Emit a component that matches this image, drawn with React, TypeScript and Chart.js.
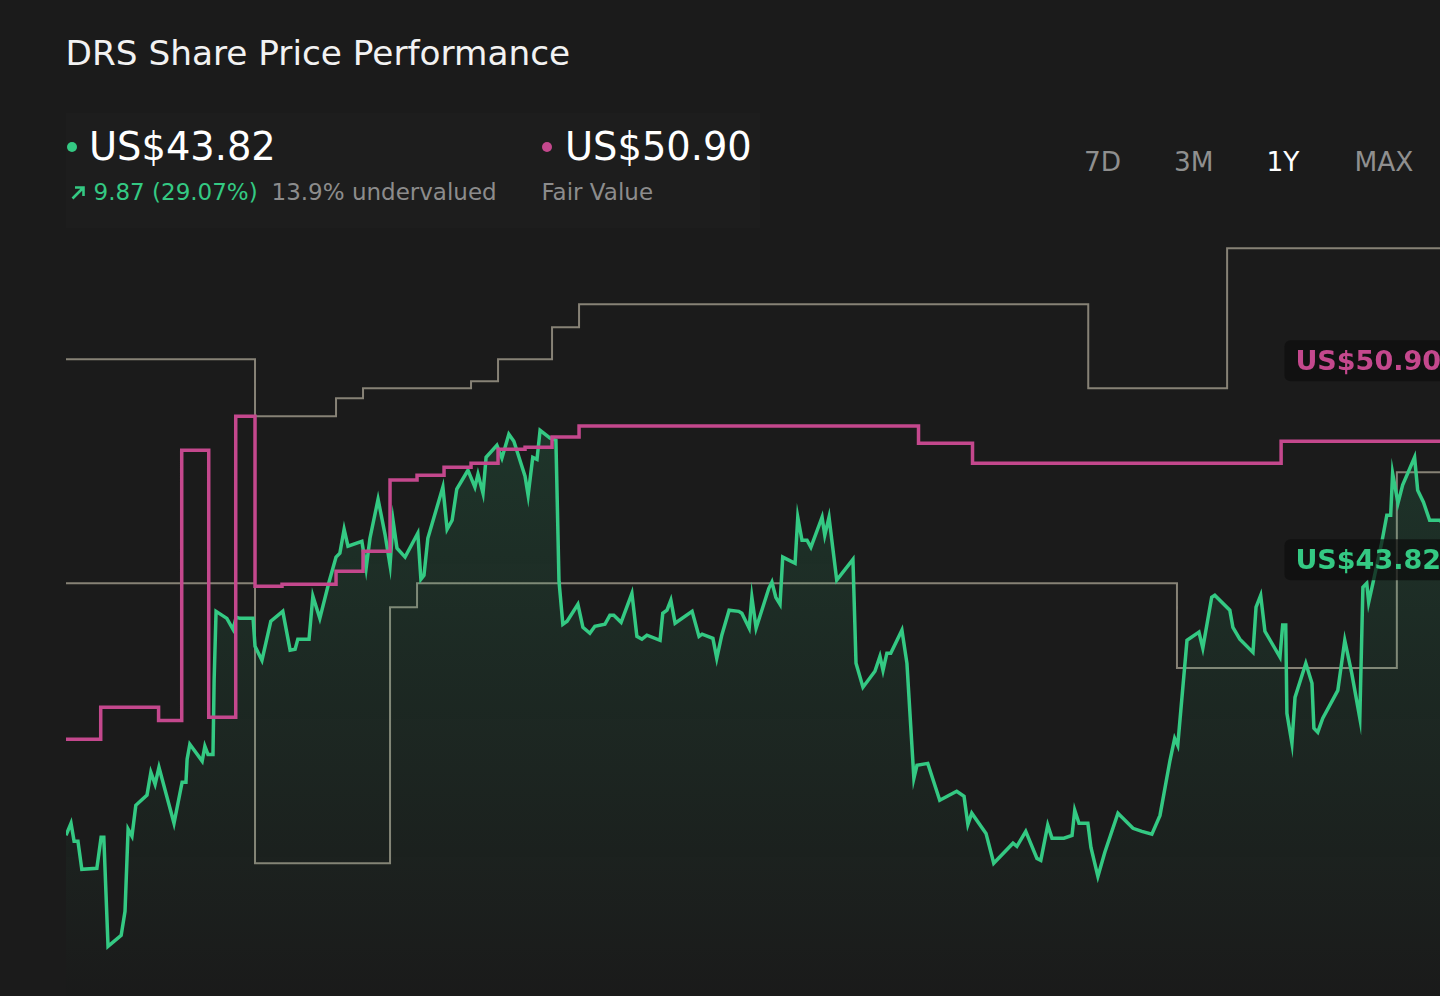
import React, { useEffect, useRef } from 'react';
import { Chart, registerables } from 'chart.js';

Chart.register(...registerables);

// x values are calendar days since the start of the 1Y window, y values are US$
const priceDays = [
  0, 1.3, 2.1, 3.1, 4.1, 8.0, 9.1, 9.8, 10.9, 14.3,
  15.3, 16.1, 17.1, 18.1, 21.0, 22.0, 23.1, 24.1, 28.0, 30.1,
  31.1, 31.4, 32.1, 35.3, 36.0, 36.8, 38.1, 38.4, 38.9, 41.7,
  43.3, 44.1, 45.1, 48.5, 49.0, 50.8, 53.1, 56.2, 58.1, 59.4,
  60.1, 63.0, 64.0, 65.8, 68.1, 70.0, 71.0, 72.1, 73.1, 76.7,
  77.2, 77.8, 78.8, 80.9, 82.7, 84.0, 84.8, 85.8, 87.9, 91.2,
  92.0, 92.8, 93.8, 97.7, 98.8, 100.1, 101.3, 104.2, 106.0, 106.8,
  108.1, 108.9, 111.7, 113.0, 114.8, 116.1, 119.0, 119.8, 121.0, 122.1,
  122.9, 125.5, 127.0, 127.8, 128.8, 129.9, 132.7, 134.0, 135.8, 137.1,
  139.7, 141.0, 142.0, 143.9, 146.7, 148.0, 149.3, 150.6, 154.0, 154.7,
  155.8, 156.8, 157.9, 162.3, 164.1, 164.9, 167.7, 168.7, 170.0, 171.9,
  174.4, 175.2, 177.1, 177.8, 178.9, 182.2, 183.0, 184.0, 185.1, 185.8,
  189.0, 189.7, 190.8, 192.1, 193.1, 196.0, 196.7, 197.8, 199.8, 204.0,
  204.8, 206.6, 209.7, 211.0, 211.8, 212.8, 213.8, 216.7, 218.0, 219.8,
  220.6, 223.4, 226.5, 230.9, 232.8, 233.8, 234.8, 238.5, 240.5, 245.5,
  246.5, 248.8, 251.7, 252.7, 254.5, 255.6, 258.7, 260.8, 261.5, 262.6,
  264.9, 265.7, 267.5, 269.3, 272.7, 276.6, 278.9, 281.5, 283.6, 286.2,
  287.4, 288.2, 290.6, 293.7, 294.7, 297.0, 297.8, 301.7, 302.5, 304.3,
  307.7, 308.5, 309.7, 310.8, 314.7, 315.4, 316.2, 316.5, 317.8, 318.6,
  321.4, 323.0, 323.5, 324.5, 325.8, 329.7, 331.5, 333.3, 335.4, 336.2,
  337.2, 337.7, 338.8, 341.1, 342.4, 343.4, 343.9, 345.3, 346.5, 349.6,
  350.4, 351.9, 353.5, 356.1, 358.5, 361.0, 363.0, 365.0,
];
const priceValues = [
  34.00, 34.43, 33.79, 33.79, 32.79, 32.83, 33.93, 33.93, 30.05, 30.44,
  31.30, 34.22, 33.97, 35.07, 35.43, 36.24, 35.82, 36.42, 34.43, 35.89,
  35.89, 36.71, 37.24, 36.64, 37.17, 36.88, 36.88, 39.52, 41.97, 41.72,
  41.33, 41.76, 41.72, 41.72, 40.73, 40.23, 41.62, 41.97, 40.59, 40.62,
  40.98, 40.98, 42.51, 41.72, 42.97, 43.90, 44.04, 44.89, 44.29, 44.46,
  44.04, 43.50, 44.57, 45.96, 44.71, 43.61, 45.18, 44.22, 43.90, 44.75,
  43.11, 43.25, 44.57, 46.39, 44.89, 45.21, 46.32, 46.99, 46.39, 46.85,
  46.17, 47.45, 47.88, 47.42, 48.27, 48.02, 46.78, 46.10, 47.45, 47.38,
  48.41, 48.13, 48.06, 43.04, 41.51, 41.62, 42.22, 41.40, 41.19, 41.44,
  41.51, 41.83, 41.83, 41.58, 42.61, 41.08, 40.98, 41.12, 40.94, 41.90,
  42.01, 42.37, 41.55, 41.97, 41.08, 41.16, 41.01, 40.30, 41.12, 42.01,
  41.97, 41.90, 41.37, 42.47, 41.37, 42.79, 43.01, 42.47, 42.22, 43.90,
  43.68, 45.32, 44.50, 44.50, 44.25, 45.32, 44.68, 45.32, 43.08, 43.82,
  40.12, 39.27, 39.84, 40.37, 39.87, 40.48, 40.48, 41.30, 40.12, 36.03,
  36.49, 36.56, 35.25, 35.57, 35.39, 34.39, 34.79, 34.07, 33.01, 33.72,
  33.61, 34.14, 33.18, 33.11, 34.36, 33.90, 33.90, 34.00, 34.89, 34.43,
  34.43, 33.57, 32.54, 33.40, 34.79, 34.25, 34.14, 34.04, 34.71, 36.67,
  37.45, 37.20, 40.94, 41.23, 40.66, 42.47, 42.54, 42.01, 41.40, 40.98,
  40.51, 42.12, 42.54, 41.26, 40.34, 41.48, 41.48, 38.34, 37.28, 38.91,
  40.12, 39.41, 37.81, 37.67, 38.17, 39.16, 40.94, 39.77, 38.17, 42.83,
  42.97, 42.29, 42.97, 44.43, 45.39, 45.39, 46.88, 45.82, 46.46, 47.45,
  46.28, 45.85, 45.21, 45.21, 44.90, 44.30, 44.10, 43.82,
];

// step series: day the value changed, new value
const fairValueDays = [0, 9, 24, 30, 37, 44, 49, 56, 70, 77, 84, 91, 98, 105, 112, 119, 126, 133, 221, 235, 315, 362, 365];
const fairValueValues = [
  37.42, 38.56, 38.09, 47.70, 38.20, 48.91, 42.86, 42.93, 43.40, 44.11, 46.64, 46.81,
  47.10, 47.24, 47.74, 47.81, 48.17, 48.56, 47.95, 47.24, 48.02, 50.90, 50.90,
];
const targetHighDays = [0, 49, 70, 77, 105, 112, 126, 133, 265, 301, 365];
const targetHighValues = [50.94, 48.91, 49.55, 49.91, 50.16, 50.94, 52.08, 52.90, 49.91, 54.89, 54.89];
const targetLowDays = [0, 49, 84, 91, 288, 345, 365];
const targetLowValues = [42.97, 33.01, 42.12, 42.97, 39.95, 46.92, 46.92];

const lastPrice = 43.82;
const fairValue = 50.9;
const priceChange = '9.87 (29.07%)';
const valuationNote = '13.9% undervalued';
const rangeButtons = ['7D', '3M', '1Y', 'MAX'];
const activeRange = '1Y';

const FONT = '"DejaVu Sans", "Noto Sans", sans-serif';
const BG = '#1b1b1b';
const GREEN = '#34c983';
const PINK = '#c4488d';
const GREY = '#878276';

const zip = (xs: number[], ys: number[]) => xs.map((x, i) => ({ x, y: ys[i] }));
const money = (v: number) => `US$${v.toFixed(2)}`;

// value tags at the right end of the plot
const endLabels = {
  id: 'endLabels',
  afterDatasetsDraw(chart: any) {
    const { ctx, chartArea, scales } = chart;
    const tags = [
      { value: fairValue, color: PINK },
      { value: lastPrice, color: GREEN },
    ];
    ctx.save();
    ctx.font = 'bold 27px "DejaVu Sans"';
    ctx.textBaseline = 'alphabetic';
    tags.forEach(({ value, color }) => {
      const text = money(value);
      const w = ctx.measureText(text).width;
      const right = chartArea.right - 22;
      const left = right - w - 22;
      const y = scales.y.getPixelForValue(value);
      ctx.fillStyle = 'rgba(14,14,14,0.72)';
      ctx.beginPath();
      ctx.roundRect(left, y - 20, w + 22, 41, 6);
      ctx.fill();
      ctx.fillStyle = color;
      ctx.fillText(text, left + 11, y + 10);
    });
    ctx.restore();
  },
};

const PriceChart: React.FC = () => {
  const canvasRef = useRef<HTMLCanvasElement>(null);

  useEffect(() => {
    if (!canvasRef.current) return;
    const chart = new Chart(canvasRef.current, {
      type: 'line',
      data: {
        datasets: [
          {
            label: 'Analyst high target',
            data: zip(targetHighDays, targetHighValues),
            borderColor: GREY,
            borderWidth: 2,
            stepped: true,
            pointRadius: 0,
            fill: false,
            order: 3,
          },
          {
            label: 'Analyst low target',
            data: zip(targetLowDays, targetLowValues),
            borderColor: GREY,
            borderWidth: 2,
            stepped: true,
            pointRadius: 0,
            fill: false,
            order: 3,
          },
          {
            label: 'Share price',
            data: zip(priceDays, priceValues),
            borderColor: GREEN,
            borderWidth: 3.5,
            pointRadius: 0,
            tension: 0,
            fill: 'start',
            backgroundColor: (c: any) => {
              const area = c.chart.chartArea;
              if (!area) return 'transparent';
              const g = c.chart.ctx.createLinearGradient(0, area.top, 0, area.bottom);
              g.addColorStop(0, 'rgba(52,201,131,0.2)');
              g.addColorStop(1, 'rgba(52,201,131,0)');
              return g;
            },
            order: 2,
          },
          {
            label: 'Fair value',
            data: zip(fairValueDays, fairValueValues),
            borderColor: PINK,
            borderWidth: 3.5,
            stepped: true,
            pointRadius: 0,
            fill: false,
            order: 1,
          },
        ],
      },
      options: {
        animation: false,
        responsive: true,
        maintainAspectRatio: false,
        events: [],
        layout: { padding: { left: 66, right: 16, top: 5, bottom: 0 } },
        scales: {
          x: { type: 'linear', min: 0, max: 365, display: false },
          y: { min: 28, max: 56, display: false },
        },
        plugins: {
          legend: { display: false },
          tooltip: { enabled: false },
        },
      },
      plugins: [endLabels],
    });

    return () => {
      chart.destroy();
    };
  }, []);

  return (
    <div style={{ position: 'absolute', left: 0, top: 212, width: 1490, height: 792 }}>
      <canvas ref={canvasRef} />
    </div>
  );
};

const text = (extra: React.CSSProperties): React.CSSProperties => ({
  position: 'absolute',
  lineHeight: 1,
  whiteSpace: 'nowrap',
  ...extra,
});

const dot = (left: number, color: string): React.CSSProperties => ({
  position: 'absolute',
  left,
  top: 142,
  width: 10,
  height: 10,
  borderRadius: '50%',
  background: color,
});

const buttonLeft = [1084, 1174, 1266.5, 1354.5];

export default function App() {
  return (
    <div
      style={{
        position: 'fixed',
        left: 0,
        top: 0,
        width: 1440,
        height: 996,
        overflow: 'hidden',
        background: BG,
        fontFamily: FONT,
      }}
    >
      <div style={{ position: 'absolute', left: 66, top: 113, width: 694, height: 115, background: 'rgba(255,255,255,0.012)' }} />
      <PriceChart />

      <div style={text({ left: 65.5, top: 36, fontSize: 34.3, color: '#f2f2f2' })}>DRS Share Price Performance</div>

      <div style={dot(67, GREEN)} />
      <div style={text({ left: 89, top: 127.5, fontSize: 38.4, color: '#ffffff' })}>{money(lastPrice)}</div>
      <svg style={{ position: 'absolute', left: 70, top: 184 }} width={17} height={17} viewBox="0 0 17 17">
        <path d="M2.5 14.5 L13.5 3.5 M5 3.5 H13.5 V12" fill="none" stroke={GREEN} strokeWidth={2.6} />
      </svg>
      <div style={text({ left: 93.5, top: 181, fontSize: 23, color: GREEN })}>{priceChange}</div>
      <div style={text({ left: 271.5, top: 181, fontSize: 23, color: '#8c8c8c' })}>{valuationNote}</div>

      <div style={dot(542, PINK)} />
      <div style={text({ left: 565, top: 127.5, fontSize: 38.4, color: '#ffffff' })}>{money(fairValue)}</div>
      <div style={text({ left: 541.5, top: 181, fontSize: 23, color: '#8c8c8c' })}>Fair Value</div>

      {rangeButtons.map((b, i) => (
        <div
          key={b}
          style={text({ left: buttonLeft[i], top: 149.3, fontSize: 26.4, color: b === activeRange ? '#ffffff' : '#8f8f8f' })}
        >
          {b}
        </div>
      ))}
    </div>
  );
}
